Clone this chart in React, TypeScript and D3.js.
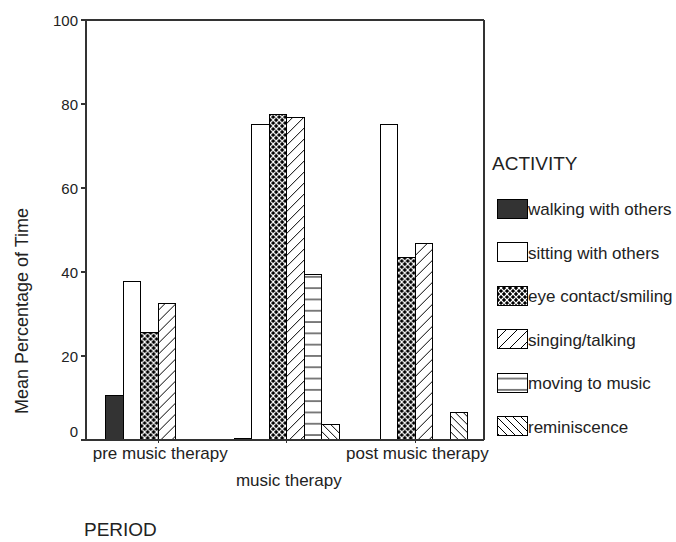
import React from "react";
import * as d3 from "d3";

const periods = ["pre music therapy", "music therapy", "post music therapy"];
const activities = [
  "walking with others",
  "sitting with others",
  "eye contact/smiling",
  "singing/talking",
  "moving to music",
  "reminiscence",
];
const walking = [10.7, 0.3, 0];
const sitting = [37.7, 75.2, 75.2];
const eyeContact = [25.7, 77.5, 43.4];
const singing = [32.4, 76.8, 46.7];
const moving = [0, 39.4, 0];
const reminiscence = [0, 3.7, 6.6];
const yTicks = [0, 20, 40, 60, 80, 100];

const seriesValues = [walking, sitting, eyeContact, singing, moving, reminiscence];
const fills = ["#333333", "#ffffff", "url(#pEye)", "url(#pSing)", "url(#pMove)", "url(#pRem)"];

const W = 676;
const H = 542;
const left = 86;
const right = 484;
const top = 20;
const bottom = 440;
const font = "'Liberation Sans', Arial, sans-serif";

export default function App() {
  const y = d3.scaleLinear().domain([0, 100]).range([bottom, top]);
  const x0 = d3
    .scaleBand<string>()
    .domain(periods)
    .range([left, left + 401.6])
    .paddingInner(0.1814)
    .paddingOuter(0.1527);
  const x1 = d3.scaleBand<string>().domain(activities).range([0, x0.bandwidth()]).padding(0);

  return (
    <svg
      width={W}
      height={H}
      style={{ position: "absolute", left: 0, top: 0, background: "#fff" }}
      fontFamily={font}
    >
      <defs>
        <pattern id="pEye" width={6} height={6} patternUnits="userSpaceOnUse">
          <rect width={6} height={6} fill="#000" />
          <path d="M0,3L3,0L6,3L3,6Z" fill="none" stroke="#fff" strokeWidth={1.2} />
          <rect x={2.4} y={-0.6} width={1.2} height={1.2} fill="#fff" />
          <rect x={-0.6} y={2.4} width={1.2} height={1.2} fill="#fff" />
        </pattern>
        <pattern id="pSing" width={11} height={11} patternUnits="userSpaceOnUse">
          <rect width={11} height={11} fill="#fff" />
          <path d="M0,11L11,0M-2,2L2,-2M9,13L13,9" stroke="#000" strokeWidth={1} />
        </pattern>
        <pattern id="pMove" width={10} height={11.3} patternUnits="userSpaceOnUse">
          <rect width={10} height={11.3} fill="#fff" />
          <path d="M0,5.65L10,5.65" stroke="#000" strokeWidth={1} />
        </pattern>
        <pattern id="pRem" width={8} height={8} patternUnits="userSpaceOnUse">
          <rect width={8} height={8} fill="#fff" />
          <path d="M0,0L8,8M-2,6L2,10M6,-2L10,2" stroke="#000" strokeWidth={1} />
        </pattern>
      </defs>

      {/* bars */}
      {periods.map((p, pi) => (
        <g key={p} transform={`translate(${x0(p)},0)`}>
          {activities.map((a, ai) => {
            const v = seriesValues[ai][pi];
            if (!v) return null;
            return (
              <rect
                key={a}
                x={x1(a)}
                y={y(v)}
                width={x1.bandwidth()}
                height={bottom - y(v)}
                fill={fills[ai]}
                stroke="#000"
                strokeWidth={1}
                shapeRendering="crispEdges"
              />
            );
          })}
        </g>
      ))}

      {/* frame */}
      <g stroke="#333" strokeWidth={1.2} fill="none" shapeRendering="crispEdges">
        <line x1={left} y1={top} x2={right} y2={top} />
        <line x1={right} y1={top} x2={right} y2={bottom} />
        <line x1={left} y1={top} x2={left} y2={bottom} />
        <line x1={left - 4} y1={bottom} x2={right} y2={bottom} />
        {yTicks.map((t) => (
          <line key={t} x1={left - 5} y1={y(t)} x2={left} y2={y(t)} />
        ))}
        {periods.map((p) => (
          <line
            key={p}
            x1={(x0(p) as number) + x0.bandwidth() / 2}
            y1={bottom}
            x2={(x0(p) as number) + x0.bandwidth() / 2}
            y2={bottom + 3}
          />
        ))}
      </g>

      {/* y tick labels */}
      {yTicks.map((t) => (
        <text
          key={t}
          x={left - 8}
          y={y(t) + (t === 0 ? -9 : 0)}
          fontSize={15}
          textAnchor="end"
          dominantBaseline="central"
          fill="#222"
        >
          {t}
        </text>
      ))}

      {/* x category labels */}
      {periods.map((p, i) => (
        <text
          key={p}
          x={(x0(p) as number) + x0.bandwidth() / 2 + 2}
          y={i % 2 === 0 ? 459 : 486}
          fontSize={17}
          textAnchor="middle"
          fill="#222"
        >
          {p}
        </text>
      ))}

      <text
        transform={`translate(28,311) rotate(-90)`}
        fontSize={18}
        textAnchor="middle"
        fill="#222"
      >
        Mean Percentage of Time
      </text>

      <text x={84} y={536} fontSize={19} fill="#222">
        PERIOD
      </text>

      {/* legend */}
      <text x={492} y={170} fontSize={19} fill="#222">
        ACTIVITY
      </text>
      {activities.map((a, i) => {
        const ty = 199 + i * 43.5;
        return (
          <g key={a}>
            <rect
              x={497}
              y={ty}
              width={30}
              height={19}
              fill={fills[i]}
              stroke="#000"
              strokeWidth={1}
              shapeRendering="crispEdges"
            />
            <text x={528} y={ty + 16} fontSize={17} fill="#222">
              {a}
            </text>
          </g>
        );
      })}
    </svg>
  );
}
